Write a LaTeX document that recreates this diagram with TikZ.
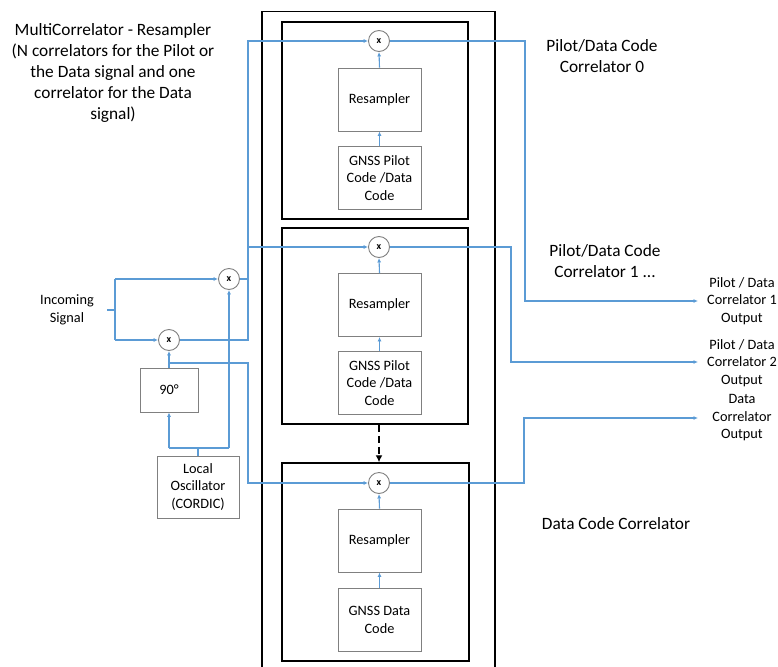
\documentclass[tikz,border=0pt]{standalone}
\usepackage{fontspec}
\setmainfont{Carlito}
\usetikzlibrary{arrows.meta}
\definecolor{sigblue}{HTML}{5B9BD5}
\definecolor{boxgray}{HTML}{808080}
\begin{document}
\begin{tikzpicture}[x=1pt,y=-1pt,
 blk/.style={draw=boxgray, line width=0.9pt, inner sep=0pt, minimum width=83pt, minimum height=63pt, align=center, font=\fontsize{14.3}{17.5}\selectfont},
 mult/.style={circle, draw=boxgray, line width=0.9pt, minimum size=21pt, inner sep=0pt, font=\fontsize{10}{10}\selectfont\bfseries},
 corr/.style={draw=black, line width=1.5pt, inner sep=0pt},
 sig/.style={draw=sigblue, line width=1.1pt},
 sigar/.style={sig, -{Latex[length=4.5pt,width=4pt]}},
 lbl/.style={align=center, font=\fontsize{17.3}{21}\selectfont, inner sep=0pt},
 olbl/.style={align=center, font=\fontsize{14.3}{17.5}\selectfont, inner sep=0pt},
 jdot/.style={circle, fill=sigblue, inner sep=0pt, minimum size=3pt}
]
\useasboundingbox (0,0) rectangle (778,666);
\clip (0,0) rectangle (778,666);
\fill[white] (0,0) rectangle (778,666);

% outer frame
\node[corr, minimum width=233pt, minimum height=689pt, anchor=north west] (outer) at (261,11) {};

% correlator containers
\node[corr, minimum width=186pt, minimum height=197pt] (c1) at (375,120.5) {};
\node[corr, minimum width=186pt, minimum height=196pt] (c2) at (375,326) {};
\node[corr, minimum width=187pt, minimum height=198pt] (c3) at (375.5,562) {};

% multipliers
\node[mult] (m1) at (379,41) {x};
\node[mult] (m2) at (379,247) {x};
\node[mult] (m3) at (379,483) {x};

% resamplers and codes
\node[blk] (r1) at (379.5,99.5) {Resampler};
\node[blk] (g1) at (379.5,178) {GNSS Pilot\\Code /Data\\Code};
\node[blk] (r2) at (379.5,305) {Resampler};
\node[blk] (g2) at (379.5,383) {GNSS Pilot\\Code /Data\\Code};
\node[blk] (r3) at (379.5,540.5) {Resampler};
\node[blk] (g3) at (379.5,620) {GNSS Data\\Code};

\foreach \i in {1,2,3}{
  \draw[sigar] (g\i.north) -- (r\i.south);
  \draw[sigar] (r\i.north) -- (m\i.south);
}

% dashed continuation arrow
\draw[line width=2pt, dash pattern=on 7pt off 4pt, -{Latex[length=7pt,width=7pt]}]
  (c2.south -| m3.center) -- (c3.north -| m3.center);

% left side
\node[mult] (ma) at (229,279) {x};
\node[mult] (mb) at (169,340) {x};
\node[blk, minimum width=58pt, minimum height=44pt] (ph) at (169,390) {90°};
\node[blk, minimum width=82pt, minimum height=62pt] (lo) at (198,487) {Local\\Oscillator\\(CORDIC)};
\node[olbl] (inc) at (67,310) {Incoming\\Signal};

\coordinate (in0) at (107,310);
\coordinate (in1) at (115,310);
\coordinate (inT) at (115,279);
\coordinate (inB) at (115,340);
\draw[sig] (in0) -- (in1);
\draw[sig] (inT) -- (inB);
\draw[sigar] (inT) -- (ma.west);
\draw[sigar] (inB) -- (mb.west);

\coordinate (lo1) at (198,448);
\coordinate (loL) at (169,448);
\coordinate (loR) at (229,448);
\draw[sig] (lo.north) -- (lo1);
\draw[sig] (loL) -- (loR);
\draw[sigar] (loL) -- (ph.south);
\draw[sigar] (loR) -- (ma.south);

\draw[sigar] (ph.north) -- (mb.south);
\coordinate (phj) at (169,363);
\coordinate (d1) at (248,363);
\coordinate (d2) at (248,483);
\draw[sigar] (phj) -- (d1) -- (d2) -- (m3.west);

\coordinate (v0) at (248,340);
\coordinate (vT) at (248,41);
\coordinate (v2) at (248,247);
\coordinate (va) at (248,279);
\draw[sigar] (mb.east) -- (v0) -- (vT) -- (m1.west);
\draw[sig] (ma.east) -- (va);
\draw[sigar] (v2) -- (m2.west);

\node[jdot] (j1) at (229,340) {};
\node[jdot] (j2) at (229,363) {};

% outputs
\node[olbl] (out1) at (742,301) {Pilot / Data\\Correlator 1\\Output};
\node[olbl] (out2) at (742,363) {Pilot / Data\\Correlator 2\\Output};
\node[olbl] (out3) at (742,418) {Data\\Correlator\\Output};

\coordinate (o1a) at (525,41);
\coordinate (o1b) at (525,301);
\coordinate (o1c) at (698,301);
\draw[sigar] (m1.east) -- (o1a) -- (o1b) -- (o1c);
\coordinate (o2a) at (511,247);
\coordinate (o2b) at (511,362);
\coordinate (o2c) at (698,362);
\draw[sigar] (m2.east) -- (o2a) -- (o2b) -- (o2c);
\coordinate (o3a) at (524,483);
\coordinate (o3b) at (524,418);
\coordinate (o3c) at (698,418);
\draw[sigar] (m3.east) -- (o3a) -- (o3b) -- (o3c);

% labels
\node[lbl] (title) at (113,73) {MultiCorrelator - Resampler\\(N correlators for the Pilot or\\the Data signal and one\\correlator for the Data\\signal)};
\node[lbl] (l0) at (602,56) {Pilot/Data Code\\Correlator 0};
\node[lbl] (l1) at (605,261.5) {Pilot/Data Code\\Correlator 1 ...};
\node[lbl] (l2) at (616,524) {Data Code Correlator};
\end{tikzpicture}
\end{document}
